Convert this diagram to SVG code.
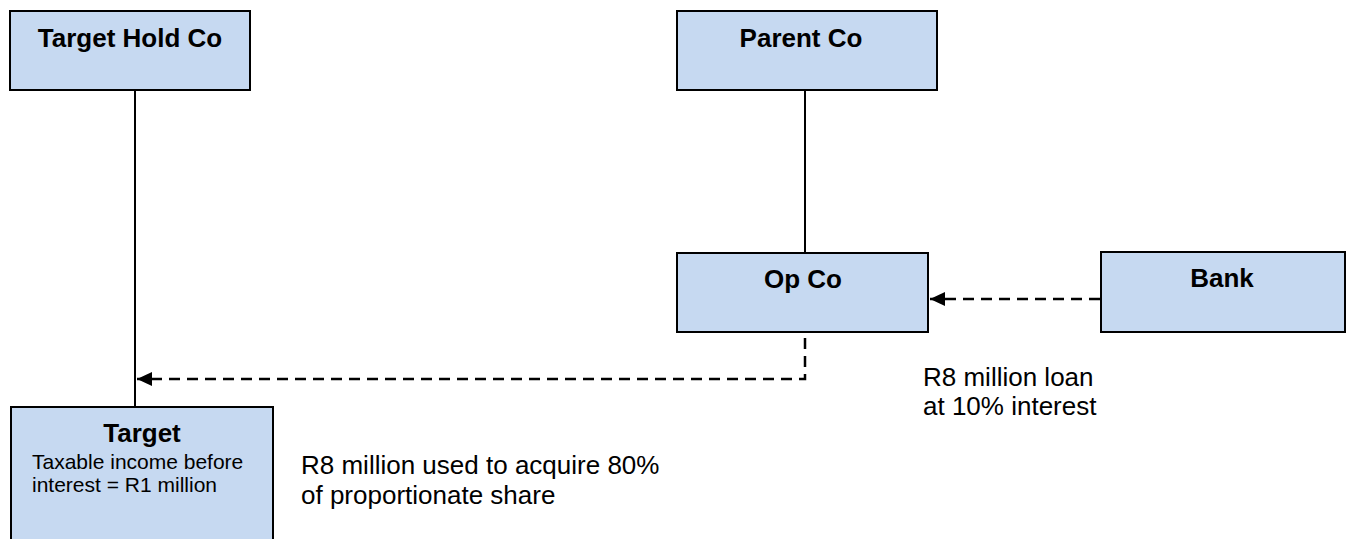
<svg xmlns="http://www.w3.org/2000/svg" width="1350" height="539" viewBox="0 0 1350 539">
<style>
.box{fill:#C6D9F1;stroke:#000;stroke-width:2}
.t{font-family:"Liberation Sans",Arial,sans-serif;font-weight:bold;font-size:26px;fill:#000;text-anchor:middle}
.s{font-family:"Liberation Sans",Arial,sans-serif;font-size:21px;fill:#000}
.a{font-family:"Liberation Sans",Arial,sans-serif;font-size:26px;fill:#000}
.solid{fill:none;stroke:#000;stroke-width:2}
.dash{fill:none;stroke:#000;stroke-width:2.5;stroke-dasharray:11 7}
</style>
<defs>
<marker id="ah" markerWidth="15" markerHeight="14" refX="15" refY="7" orient="auto" markerUnits="userSpaceOnUse">
<path d="M0,0 L15,7 L0,14 Z" fill="#000"/>
</marker>
</defs>
<rect width="1350" height="539" fill="#fff"/>
<g id="connectors">
<line class="solid" x1="135" y1="90" x2="135" y2="407"/>
<line class="solid" x1="805" y1="90" x2="805" y2="253"/>
<line class="dash" x1="1100" y1="299" x2="930" y2="299" marker-end="url(#ah)"/>
<path class="dash" d="M805,338 V379 H137" marker-end="url(#ah)"/>
</g>
<g id="target-hold-co">
<rect class="box" x="10" y="11" width="240" height="79"/>
<text class="t" x="130" y="47">Target Hold Co</text>
</g>
<g id="parent-co">
<rect class="box" x="677" y="11" width="260" height="79"/>
<text class="t" x="801" y="47">Parent Co</text>
</g>
<g id="op-co">
<rect class="box" x="677" y="253" width="251" height="79"/>
<text class="t" x="803" y="288">Op Co</text>
</g>
<g id="bank">
<rect class="box" x="1101" y="252" width="244" height="80"/>
<text class="t" x="1222" y="287">Bank</text>
</g>
<g id="target">
<rect class="box" x="11" y="407" width="262" height="150"/>
<text class="t" x="142" y="442">Target</text>
<text class="s" x="32" y="469">Taxable income before</text>
<text class="s" x="32" y="492">interest = R1 million</text>
</g>
<g id="labels">
<text class="a" x="301" y="474">R8 million used to acquire 80%</text>
<text class="a" x="301" y="504">of proportionate share</text>
<text class="a" x="923" y="386">R8 million loan</text>
<text class="a" x="923" y="415">at 10% interest</text>
</g>
</svg>
